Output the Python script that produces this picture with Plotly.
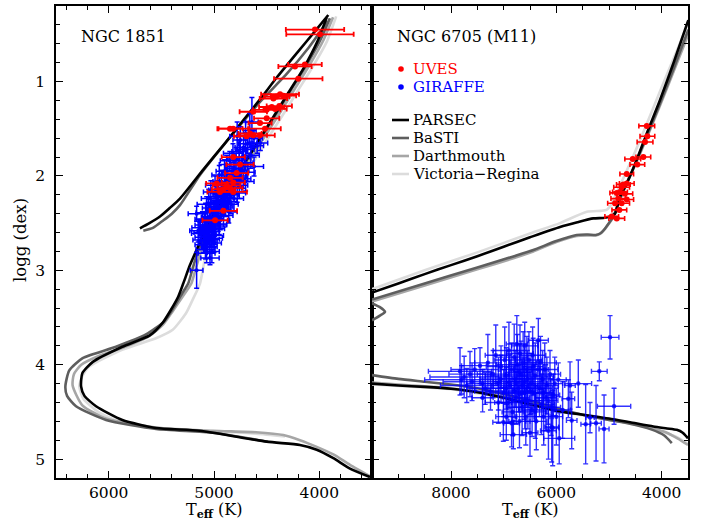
import plotly.graph_objects as go

# ---------------- isochrones: NGC 1851 (left panel) ----------------
parsec_1851_T = [3519, 3709, 3867, 4025, 4184, 4500, 5133, 5550, 5870, 6120, 6230, 6262, 6250, 6150, 5870, 5610, 5490, 5410, 5340, 5292, 5230, 5180, 5100, 5000, 4880, 4750, 4600, 4450, 4300, 4150, 4020, 3930]
parsec_1851_g = [5.19, 5.10, 4.99, 4.90, 4.85, 4.815, 4.70, 4.67, 4.585, 4.44, 4.33, 4.23, 4.09, 3.97, 3.81, 3.69, 3.56, 3.42, 3.28, 3.14, 2.95, 2.82, 2.62, 2.40, 2.17, 1.93, 1.67, 1.40, 1.13, 0.86, 0.58, 0.32]
parsec_1851_agb_T = [5703, 5613, 5513, 5420, 5323, 5100, 4900, 4722, 4550, 4399, 4200, 4050, 3915]
parsec_1851_agb_g = [2.555, 2.50, 2.43, 2.34, 2.24, 1.93, 1.66, 1.41, 1.17, 0.95, 0.68, 0.48, 0.295]

basti_1851_T = [4490, 5010, 5550, 6025, 6310, 6395, 6411, 6374, 6247, 5930, 5646, 5472, 5377, 5300, 5245, 5200, 5150, 5060, 4960, 4840, 4710, 4570, 4420, 4270, 4120, 3990, 3900]
basti_1851_g = [4.815, 4.72, 4.68, 4.585, 4.44, 4.33, 4.23, 4.06, 3.93, 3.81, 3.68, 3.54, 3.385, 3.24, 3.14, 2.97, 2.79, 2.58, 2.36, 2.12, 1.88, 1.62, 1.36, 1.09, 0.82, 0.56, 0.33]
basti_1851_agb_T = [5671, 5580, 5480, 5400, 5323, 5133, 4950, 4750, 4550, 4310, 4100, 3920]
basti_1851_agb_g = [2.58, 2.55, 2.47, 2.40, 2.31, 1.99, 1.73, 1.46, 1.20, 0.92, 0.64, 0.36]

dart_1851_T = [3519, 3709, 3867, 4025, 4184, 4342, 4601, 5012, 5551, 6025, 6250, 6342, 6330, 6260, 6100, 5867, 5620, 5480, 5390, 5310, 5250, 5215, 5170, 5120, 5030, 4930, 4810, 4680, 4540, 4390, 4240, 4090, 3960, 3870]
dart_1851_g = [5.18, 5.06, 4.95, 4.87, 4.80, 4.745, 4.715, 4.70, 4.665, 4.57, 4.43, 4.22, 4.10, 4.00, 3.91, 3.82, 3.70, 3.57, 3.43, 3.30, 3.20, 3.14, 2.97, 2.79, 2.58, 2.36, 2.12, 1.88, 1.62, 1.36, 1.09, 0.82, 0.56, 0.32]

vr_1851_T = [4326, 4600, 5012, 5551, 5900, 6100, 6240, 6279, 6250, 6184, 5867, 5551, 5392, 5266, 5202, 5133, 5070, 4990, 4890, 4770, 4640, 4500, 4350, 4200, 4050, 3930, 3840]
vr_1851_g = [4.76, 4.73, 4.705, 4.67, 4.60, 4.50, 4.36, 4.23, 4.12, 4.02, 3.84, 3.72, 3.63, 3.455, 3.31, 3.14, 2.79, 2.58, 2.36, 2.12, 1.88, 1.62, 1.36, 1.09, 0.82, 0.58, 0.31]

# ---------------- isochrones: NGC 6705 (right panel) ----------------
parsec_6705_ms_T = [9500, 9000, 8500, 8000, 7500, 7000, 6500, 6000, 5500, 5000, 4600, 4158, 3900, 3714, 3600, 3500]
parsec_6705_ms_g = [4.20, 4.22, 4.235, 4.255, 4.29, 4.35, 4.42, 4.49, 4.53, 4.57, 4.61, 4.655, 4.675, 4.69, 4.72, 4.78]
parsec_6705_up_T = [9500, 9000, 8500, 8000, 7500, 7000, 6500, 5930, 5600, 5298, 5108, 5013, 4950, 4885, 4791, 4663, 4474, 4283, 4031, 3760, 3494]
parsec_6705_up_g = [3.236, 3.14, 3.04, 2.945, 2.85, 2.75, 2.65, 2.54, 2.49, 2.45, 2.445, 2.435, 2.42, 2.40, 2.22, 2.08, 1.83, 1.55, 1.196, 0.78, 0.35]

basti_6705_ms_T = [9500, 9000, 8500, 8000, 7500, 7000, 6500, 6000, 5500, 5000, 4600, 4200, 3950, 3808]
basti_6705_ms_g = [4.11, 4.15, 4.18, 4.21, 4.25, 4.31, 4.38, 4.46, 4.53, 4.585, 4.625, 4.685, 4.75, 4.83]
basti_6705_up_T = [9500, 8500, 7500, 6800, 6437, 6000, 5613, 5400, 5250, 5170, 5080, 4990, 4918, 4820, 4700, 4500, 4300, 4050, 3770, 3494]
basti_6705_up_g = [3.31, 3.14, 2.97, 2.85, 2.785, 2.69, 2.625, 2.62, 2.625, 2.61, 2.56, 2.49, 2.43, 2.28, 2.12, 1.87, 1.60, 1.26, 0.86, 0.45]
basti_6705_loop_T = [9500, 9350, 9253, 9350, 9500]
basti_6705_loop_g = [3.53, 3.48, 3.44, 3.39, 3.35]

dart_6705_ms_T = [9500, 9000, 8000, 7000, 6000, 5500, 5000, 4600, 4200, 3900, 3700, 3500]
dart_6705_ms_g = [4.19, 4.21, 4.25, 4.34, 4.48, 4.53, 4.58, 4.62, 4.67, 4.72, 4.78, 4.85]
dart_6705_up_T = [9500, 8500, 7500, 6800, 6437, 6000, 5613, 5400, 5250, 5170, 5080, 4990, 4918, 4820, 4700, 4500, 4300, 4050, 3770, 3494]
dart_6705_up_g = [3.33, 3.16, 2.99, 2.87, 2.80, 2.70, 2.635, 2.63, 2.63, 2.615, 2.565, 2.495, 2.44, 2.29, 2.13, 1.88, 1.62, 1.28, 0.89, 0.50]

vr_6705_ms_T = [9500, 9000, 8000, 7000, 6000, 5500, 5000, 4600, 4200, 3900, 3700, 3500]
vr_6705_ms_g = [4.21, 4.225, 4.26, 4.35, 4.49, 4.535, 4.585, 4.625, 4.675, 4.725, 4.77, 4.84]
vr_6705_up_T = [9500, 8500, 7500, 6500, 5930, 5422, 5150, 5044, 4990, 4930, 4850, 4700, 4500, 4300, 4050, 3770, 3494]
vr_6705_up_g = [3.20, 3.00, 2.81, 2.61, 2.50, 2.38, 2.37, 2.36, 2.33, 2.27, 2.17, 1.99, 1.74, 1.47, 1.13, 0.75, 0.38]

# ---------------- observed stars: NGC 1851 ----------------
uves_1851_T = [4041, 3994, 4137, 4231, 4200, 4373, 4405, 4436, 4340, 4452, 4420, 4500, 4380, 4627, 4500, 4563, 4817, 4848, 4516, 4627, 4690, 4563, 4658, 4817, 4753, 4785, 4848, 4817, 4880, 4848, 4911, 4943, 4817, 4975, 4911, 4990]
uves_1851_g = [0.45, 0.50, 0.82, 0.84, 0.97, 1.135, 1.16, 1.18, 1.15, 1.27, 1.29, 1.30, 1.26, 1.32, 1.39, 1.44, 1.50, 1.50, 1.50, 1.57, 1.58, 1.57, 1.55, 1.80, 1.88, 1.97, 2.02, 2.07, 2.10, 2.13, 2.14, 2.17, 2.17, 2.08, 2.37, 2.47]
uves_1851_eT = [277, 320, 160, 158, 230, 180, 120, 130, 120, 120, 110, 130, 120, 130, 120, 110, 140, 120, 150, 130, 120, 140, 110, 110, 130, 110, 120, 110, 130, 120, 110, 120, 130, 100, 130, 120]

giraffe_1851_T = [4640, 4700, 4620, 4750, 4680, 4590, 4720, 4780, 4660, 4560,
                  4700, 4760, 4820, 4650, 4730, 4790, 4850, 4700, 4760, 4880,
                  4620, 4810, 4740, 4900, 4680, 4830, 4770, 4950, 4870, 4720,
                  4800, 4930, 4850, 4760, 4990, 4900, 4820, 4960, 4870, 4780,
                  5030, 4920, 4850, 4980, 4890, 4810, 5050, 4940, 4870, 5000,
                  4910, 4840, 5070, 4960, 4890, 5030, 4930, 5000, 4860, 5080,
                  4970, 5165, 4910, 5040, 4990, 5110, 4940, 5060, 5010, 4960,
                  5090, 5040, 5130, 4990, 5070, 5150, 5020, 5100, 5133, 5050,
                  4990, 5090, 5020, 5120, 5060, 5000, 5100, 5040, 5080, 5070,
                  5020, 5038, 5165, 4700, 4800, 4900, 4980, 5030, 4950, 5000]
giraffe_1851_g = [1.43, 1.55, 1.60, 1.62, 1.66, 1.68, 1.70, 1.58, 1.52, 1.65,
                  1.72, 1.74, 1.76, 1.78, 1.80, 1.82, 1.84, 1.86, 1.88, 1.88,
                  1.90, 1.92, 1.94, 1.95, 1.96, 1.98, 2.00, 1.99, 2.02, 2.03,
                  2.05, 2.06, 2.08, 2.10, 2.10, 2.12, 2.13, 2.15, 2.16, 2.18,
                  2.17, 2.19, 2.20, 2.22, 2.23, 2.24, 2.24, 2.26, 2.27, 2.28,
                  2.29, 2.30, 2.30, 2.32, 2.33, 2.34, 2.36, 2.37, 2.38, 2.39,
                  2.40, 2.40, 2.42, 2.43, 2.45, 2.46, 2.47, 2.48, 2.50, 2.51,
                  2.52, 2.54, 2.55, 2.56, 2.57, 2.58, 2.59, 2.60, 2.61, 2.62,
                  2.63, 2.65, 2.67, 2.68, 2.70, 2.71, 2.73, 2.75, 2.78, 2.82,
                  2.80, 2.87, 3.00, 2.06, 1.95, 2.21, 2.35, 2.44, 2.52, 2.66]
giraffe_1851_eT = [60, 70, 80, 70, 90, 60, 80, 70, 60, 70,
                   80, 70, 90, 80, 70, 80, 90, 70, 80, 70,
                   90, 80, 70, 80, 70, 90, 80, 70, 80, 70,
                   90, 80, 70, 80, 90, 70, 80, 90, 70, 80,
                   70, 90, 80, 70, 80, 90, 70, 80, 90, 70,
                   80, 70, 90, 80, 70, 80, 90, 70, 80, 90,
                   70, 80, 90, 70, 80, 70, 90, 80, 70, 80,
                   90, 70, 80, 90, 70, 80, 70, 90, 80, 70,
                   80, 90, 70, 80, 90, 70, 80, 70, 90, 80,
                   70, 87, 60, 80, 90, 70, 80, 90, 70, 80]
giraffe_1851_eg = [0.26, 0.12, 0.10, 0.14, 0.10, 0.08, 0.12, 0.15, 0.18, 0.08,
                   0.10, 0.12, 0.10, 0.14, 0.10, 0.12, 0.10, 0.08, 0.12, 0.10,
                   0.10, 0.14, 0.10, 0.12, 0.10, 0.08, 0.12, 0.10, 0.12, 0.10,
                   0.08, 0.12, 0.10, 0.14, 0.10, 0.12, 0.08, 0.10, 0.12, 0.10,
                   0.12, 0.10, 0.08, 0.12, 0.10, 0.14, 0.10, 0.12, 0.08, 0.10,
                   0.12, 0.10, 0.08, 0.12, 0.10, 0.12, 0.10, 0.08, 0.12, 0.10,
                   0.10, 0.08, 0.12, 0.10, 0.12, 0.08, 0.10, 0.12, 0.10, 0.08,
                   0.12, 0.10, 0.08, 0.12, 0.10, 0.12, 0.10, 0.08, 0.12, 0.10,
                   0.10, 0.12, 0.08, 0.10, 0.12, 0.10, 0.08, 0.12, 0.10, 0.10,
                   0.12, 0.07, 0.19, 0.10, 0.12, 0.10, 0.08, 0.12, 0.10, 0.10]

# ---------------- observed stars: NGC 6705 ----------------
uves_6705_T = [4283, 4271, 4316, 4348, 4549, 4462, 4663, 4663, 4727, 4760, 4791, 4853, 4700, 4823, 4663, 4885, 4760, 4804, 4948, 4853]
uves_6705_g = [1.47, 1.58, 1.64, 1.80, 1.82, 1.88, 1.98, 2.08, 2.09, 2.12, 2.17, 2.18, 2.19, 2.24, 2.25, 2.29, 2.29, 2.36, 2.43, 2.45]
uves_6705_eT = [150, 140, 150, 140, 150, 140, 130, 140, 130, 150, 140, 130, 150, 140, 130, 140, 150, 140, 130, 150]

giraffe_6705_T = [7829, 7750, 7639, 7600, 7449, 7700, 7800, 7550, 7400, 7350,
                  4980, 5184, 4904, 5094, 5246, 5360, 5443, 5583, 5740, 5772, 5708, 5945, 5963, 6057, 6088,
                  7300, 7200, 7150, 7100, 7050, 7000, 6980, 6950, 6920, 6900,
                  6880, 6850, 6830, 6800, 6780, 6760, 6740, 6720, 6700, 6690,
                  6670, 6650, 6630, 6610, 6600, 6580, 6560, 6540, 6520, 6500,
                  6480, 6460, 6440, 6420, 6400, 6380, 6342, 6320, 6300, 6280,
                  6260, 6240, 6220, 6200, 6180, 6150, 6120, 6100, 6030, 6000,
                  7006, 6816, 7250, 7400, 6950, 6600, 6750, 6850, 6069, 5880,
                  6900, 6700, 6500, 6350, 7100, 6650, 6450, 6250, 6800, 6550, 7050, 6600, 6400, 6150, 6950]
giraffe_6705_g = [4.07, 4.13, 4.10, 4.18, 4.01, 4.22, 4.16, 4.05, 4.20, 4.25,
                  3.71, 4.07, 4.44, 4.68, 4.62, 4.56, 4.63, 4.20, 4.22, 4.36, 4.59, 4.78, 4.16, 4.32, 4.66,
                  3.98, 4.10, 3.90, 4.20, 4.02, 4.30, 3.95, 4.12, 4.40, 3.85,
                  4.22, 4.05, 4.50, 3.92, 4.15, 4.35, 4.00, 4.25, 4.60, 3.88,
                  4.10, 4.45, 3.98, 4.30, 4.18, 4.55, 4.05, 4.38, 3.95, 4.72,
                  4.20, 4.48, 4.02, 4.30, 4.12, 4.60, 3.74, 4.25, 3.98, 4.42,
                  4.15, 4.55, 4.05, 4.35, 4.22, 4.70, 4.10, 4.45, 4.20, 4.55,
                  4.61, 4.74, 4.28, 4.35, 4.55, 3.80, 3.78, 4.62, 4.67, 4.48,
                  4.18, 4.08, 4.28, 4.05, 4.40, 4.22, 3.90, 4.30, 4.28, 4.15, 4.15, 4.38, 4.50, 4.38, 4.25]
giraffe_6705_eT = [600, 650, 400, 550, 350, 500, 700, 450, 300, 350,
                   168, 149, 316, 95, 100, 80, 90, 253, 100, 120, 100, 294, 150, 120, 130,
                   250, 300, 200, 350, 280, 320, 200, 400, 250, 300,
                   350, 220, 200, 260, 300, 250, 400, 350, 200, 250,
                   300, 280, 250, 300, 350, 200, 250, 300, 250, 150,
                   300, 250, 200, 300, 350, 200, 190, 250, 300, 250,
                   200, 180, 250, 200, 220, 150, 200, 180, 150, 120,
                   200, 250, 300, 200, 200, 250, 200, 150, 120, 150,
                   300, 250, 300, 200, 250, 300, 250, 200, 350, 280, 400, 250, 200, 180, 450]
giraffe_6705_eg = [0.25, 0.22, 0.24, 0.20, 0.19, 0.18, 0.15, 0.22, 0.15, 0.17,
                   0.23, 0.10, 0.19, 0.36, 0.40, 0.16, 0.42, 0.25, 0.25, 0.20, 0.30, 0.27, 0.18, 0.22, 0.37,
                   0.30, 0.25, 0.32, 0.28, 0.22, 0.25, 0.35, 0.30, 0.22, 0.30,
                   0.33, 0.28, 0.25, 0.35, 0.30, 0.28, 0.32, 0.25, 0.28, 0.30,
                   0.35, 0.30, 0.33, 0.28, 0.25, 0.30, 0.35, 0.30, 0.30, 0.25,
                   0.32, 0.28, 0.30, 0.30, 0.35, 0.30, 0.23, 0.30, 0.28, 0.32,
                   0.30, 0.30, 0.28, 0.35, 0.30, 0.30, 0.25, 0.30, 0.28, 0.30,
                   0.20, 0.15, 0.20, 0.15, 0.25, 0.25, 0.30, 0.25, 0.40, 0.30,
                   0.28, 0.30, 0.25, 0.30, 0.22, 0.28, 0.30, 0.25, 0.28, 0.30, 0.25, 0.30, 0.28, 0.25, 0.22]

# ---------------- styles ----------------
FONT = "DejaVu Serif"
C_PARSEC, C_BASTI, C_DART, C_VR = "#000000", "#5e5e5e", "#a6a6a6", "#dcdcdc"
RED, BLUE = "#ff0000", "#0000ff"

fig = go.Figure()

def iso(T, g, color, xa, ya):
    fig.add_trace(go.Scatter(x=T, y=g, mode="lines", line=dict(color=color, width=2.6, shape="spline", smoothing=0.6),
                             xaxis=xa, yaxis=ya, showlegend=False, hoverinfo="skip"))

# left panel isochrones
iso(vr_1851_T, vr_1851_g, C_VR, "x", "y")
iso(dart_1851_T, dart_1851_g, C_DART, "x", "y")
iso(basti_1851_T, basti_1851_g, C_BASTI, "x", "y")
iso(basti_1851_agb_T, basti_1851_agb_g, C_BASTI, "x", "y")
iso(parsec_1851_T, parsec_1851_g, C_PARSEC, "x", "y")
iso(parsec_1851_agb_T, parsec_1851_agb_g, C_PARSEC, "x", "y")

# right panel isochrones
iso(vr_6705_ms_T, vr_6705_ms_g, C_VR, "x2", "y2")
iso(vr_6705_up_T, vr_6705_up_g, C_VR, "x2", "y2")
iso(dart_6705_ms_T, dart_6705_ms_g, C_DART, "x2", "y2")
iso(dart_6705_up_T, dart_6705_up_g, C_DART, "x2", "y2")
iso(basti_6705_ms_T, basti_6705_ms_g, C_BASTI, "x2", "y2")
iso(basti_6705_up_T, basti_6705_up_g, C_BASTI, "x2", "y2")
iso(basti_6705_loop_T, basti_6705_loop_g, C_BASTI, "x2", "y2")
iso(parsec_6705_ms_T, parsec_6705_ms_g, C_PARSEC, "x2", "y2")
iso(parsec_6705_up_T, parsec_6705_up_g, C_PARSEC, "x2", "y2")

def stars(T, g, eT, eg, color, size, thick, xa, ya):
    ey = dict(type="data", array=eg, color=color, thickness=thick, width=2.5) if eg is not None else dict(visible=False)
    fig.add_trace(go.Scatter(x=T, y=g, mode="markers",
                             marker=dict(color=color, size=size, line=dict(width=0)),
                             error_x=dict(type="data", array=eT, color=color, thickness=thick, width=2.5),
                             error_y=ey, xaxis=xa, yaxis=ya, showlegend=False, hoverinfo="skip"))

stars(giraffe_1851_T, giraffe_1851_g, giraffe_1851_eT, giraffe_1851_eg, BLUE, 4, 1.5, "x", "y")
stars(uves_1851_T, uves_1851_g, uves_1851_eT, None, RED, 6, 1.8, "x", "y")
stars(giraffe_6705_T, giraffe_6705_g, giraffe_6705_eT, giraffe_6705_eg, "rgba(0,0,255,0.8)", 4.5, 1.4, "x2", "y2")
stars(uves_6705_T, uves_6705_g, uves_6705_eT, None, RED, 6, 1.6, "x2", "y2")

W, H = 702, 521
xl0, xl1, xr1 = 56 / W, 372 / W, 688 / W
yb, yt = 1 - 478 / H, 1 - 6 / H

common = dict(showline=True, linecolor="black", linewidth=1.6, mirror="ticks", ticks="inside",
              ticklen=7, tickwidth=1.2, tickcolor="black", showgrid=False, zeroline=False,
              tickfont=dict(family=FONT, size=15.5, color="black"))

fig.update_layout(
    width=W, height=H, margin=dict(l=0, r=0, t=0, b=0),
    paper_bgcolor="white", plot_bgcolor="white", showlegend=False,
    font=dict(family=FONT, color="black"),
    xaxis=dict(domain=[xl0, xl1], range=[6500, 3500], tick0=4000, dtick=1000, anchor="y",
               ticklabelstandoff=0,
               minor=dict(ticks="inside", ticklen=4, tickwidth=1.1, tickcolor="black", tick0=4000, dtick=200),
               **common),
    xaxis2=dict(domain=[xl1, xr1], range=[9500, 3500], tick0=4000, dtick=2000, anchor="y2",
                ticklabelstandoff=0,
                minor=dict(ticks="inside", ticklen=4, tickwidth=1.1, tickcolor="black", tick0=4000, dtick=500),
                **common),
    yaxis=dict(domain=[yb, yt], range=[5.2, 0.2], tick0=0, dtick=1, anchor="x",
               ticklabelstandoff=6,
               minor=dict(ticks="inside", ticklen=4, tickwidth=1.1, tickcolor="black", tick0=0, dtick=0.2),
               **common),
    yaxis2=dict(domain=[yb, yt], range=[5.2, 0.2], matches="y", anchor="x2", showticklabels=False,
                tick0=0, dtick=1,
                minor=dict(ticks="inside", ticklen=4, tickwidth=1.1, tickcolor="black", tick0=0, dtick=0.2),
                **common),
)

def ann(text, x, y, color="black", size=16, xanchor="left", angle=0):
    fig.add_annotation(text=text, x=x / W, y=1 - y / H, xref="paper", yref="paper",
                       xanchor=xanchor, yanchor="middle", showarrow=False, textangle=angle,
                       borderpad=0, font=dict(family=FONT, size=size, color=color))

LEG_Y = [120, 138, 156, 174]

ann("NGC 1851", 80, 36)
ann("NGC 6705 (M11)", 396, 36)
ann("UVES", 412, 69, RED, size=15)
ann("GIRAFFE", 412, 87, BLUE, size=15)
ann("PARSEC", 412, LEG_Y[0], size=15)
ann("BaSTI", 412, LEG_Y[1], size=15)
ann("Darthmouth", 412, LEG_Y[2], size=15)
ann("Victoria\u2212Regina", 412, LEG_Y[3], size=15)
ann("T<sub><b>eff</b></sub> (K)", 214, 510, xanchor="center", size=16)
ann("T<sub><b>eff</b></sub> (K)", 530, 510, xanchor="center", size=16)
ann("logg (dex)", 20, 240, xanchor="center", size=16.5, angle=-90)

for yy, col in [(69, RED), (87, BLUE)]:
    fig.add_shape(type="circle", xref="paper", yref="paper", xsizemode="pixel", ysizemode="pixel",
                  xanchor=401 / W, yanchor=1 - yy / H, x0=-2.8, x1=2.8, y0=-2.8, y1=2.8,
                  fillcolor=col, line=dict(width=0))
for yy, col in zip(LEG_Y, [C_PARSEC, C_BASTI, C_DART, C_VR]):
    fig.add_shape(type="line", xref="paper", yref="paper", x0=392 / W, x1=409 / W,
                  y0=1 - yy / H, y1=1 - yy / H, line=dict(color=col, width=2.6))

fig.write_html("out.html", config={"displayModeBar": False},
               post_script="document.body.style.margin='0';document.body.style.overflow='hidden';")
